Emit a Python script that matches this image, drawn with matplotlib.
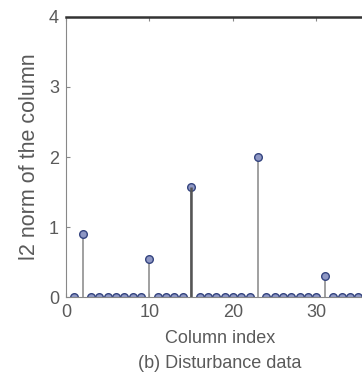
import numpy as np
import matplotlib
matplotlib.use("Agg")
import matplotlib.pyplot as plt

# l2 norm of each column (non-zero columns only, the rest are 0)
n_columns = 42
spike_index = [2, 10, 15, 23, 31]
spike_norm = [0.9, 0.55, 1.57, 2.0, 0.3]

column_index = np.arange(1, n_columns + 1)
column_norm = np.zeros(n_columns)
for i, v in zip(spike_index, spike_norm):
    column_norm[i - 1] = v

x_ticks = [0, 10, 20, 30]
y_ticks = [0, 1, 2, 3, 4]

plt.rcParams['font.family'] = ['Liberation Sans', 'DejaVu Sans']
text_color = '#5a5a5a'

fig = plt.figure(figsize=(3.62, 3.77), dpi=100)
ax = fig.add_axes([0.182, 0.212, 0.923, 0.743])

markers, stems, base = ax.stem(column_index, column_norm, basefmt=' ')
plt.setp(stems, color='#909090', linewidth=1.2)
plt.setp(markers, marker='o', markersize=5.5, markerfacecolor='#8e97c4',
         markeredgecolor='#34447f', markeredgewidth=1.0)
# the largest column stands out a bit darker
ax.vlines(15, 0, column_norm[14], color='#555555', linewidth=1.8, zorder=2)

ax.set_xlim(0, 40)
ax.set_ylim(0, 4)
ax.set_xticks(x_ticks)
ax.set_yticks(y_ticks)

for side in ['left', 'top', 'right', 'bottom']:
    ax.spines[side].set_color('#888888')
ax.spines['top'].set_color('#333333')
ax.spines['top'].set_linewidth(1.8)

ax.tick_params(direction='in', length=3, colors='#888888', labelcolor=text_color,
               labelsize=13, top=True, right=True, pad=5)
ax.set_ylabel('l2 norm of the column', fontsize=15.5, color=text_color, labelpad=6)
fig.text(0.607, 0.103, 'Column index', fontsize=13, color=text_color,
         ha='center', va='center')
fig.text(0.607, 0.035, '(b) Disturbance data', fontsize=13, color=text_color,
         ha='center', va='center')

fig.savefig('out.png', dpi=100)
